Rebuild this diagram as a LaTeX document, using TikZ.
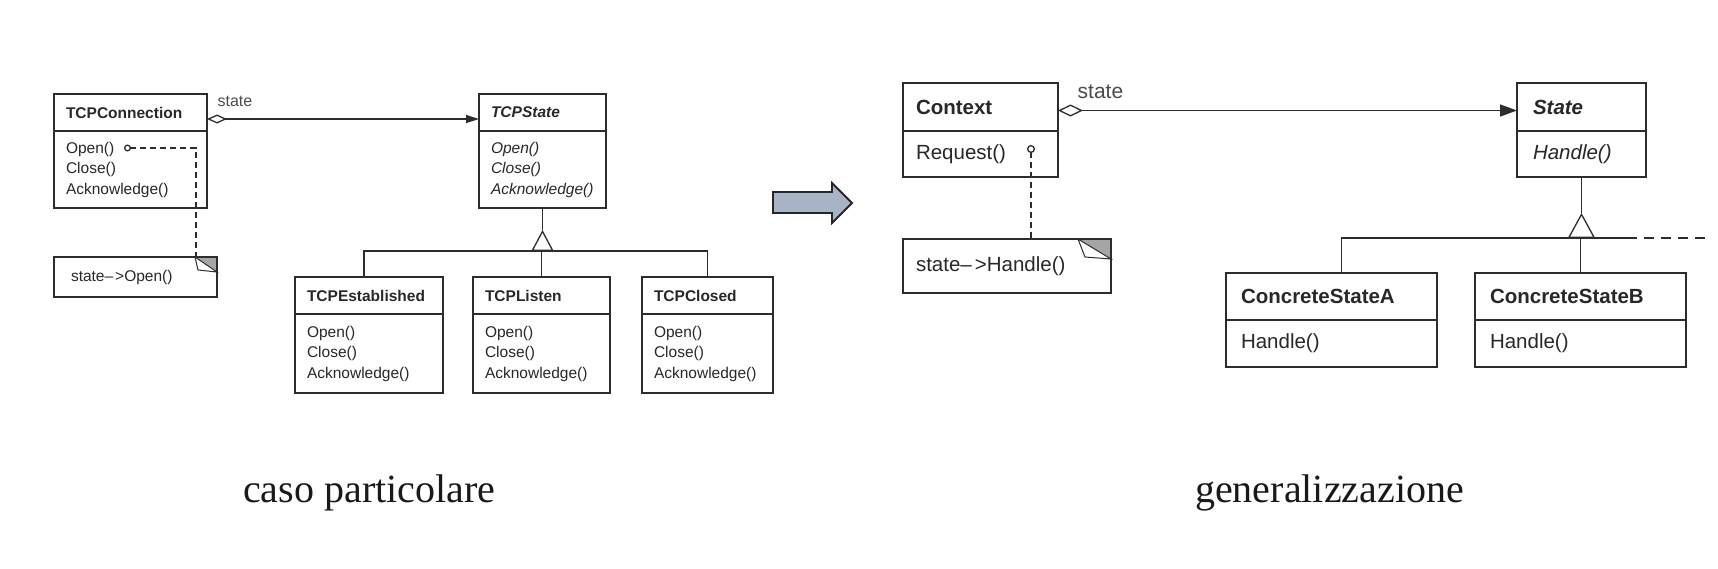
\documentclass[tikz,border=0pt]{standalone}
\usepackage{fontspec}
\setmainfont{Liberation Serif}
\setsansfont{Liberation Sans}
\usepackage{tikz}
\usepackage{xcolor}
\usetikzlibrary{arrows.meta}
\definecolor{umlline}{RGB}{45, 45, 45}
\definecolor{umltext}{RGB}{40, 40, 40}
\definecolor{foldgray}{RGB}{165, 165, 165}
\definecolor{arrowblue}{RGB}{168, 180, 198}

\begin{document}
\begin{tikzpicture}[x=1pt, y=-1pt,
    classbox/.style={draw=umlline, line width=1.3pt, anchor=north west, outer sep=0pt, inner xsep=12pt, inner ysep=0pt, align=left, text=umltext},
    smallfont/.style={font=\sffamily\fontsize{15.5}{20.5}\selectfont},
    bigfont/.style={font=\sffamily\fontsize{20.5}{26}\selectfont},
    umledge/.style={draw=umlline, line width=1.3pt},
    notelink/.style={umledge, dash pattern=on 6pt off 4pt},
    statelabel/.style={anchor=base west, inner sep=0pt, text=black!70},
    bigarrow/.style={fill=arrowblue, draw=black!85, line width=1.8pt},
    captiontext/.style={font=\fontsize{40}{48}\selectfont, text=black!90, anchor=base west, inner sep=0pt}]

    \fill[white] (0,0) rectangle (1718,568);
    \useasboundingbox (0,0) rectangle (1718,568);

    % TCPConnection class
    \node[classbox, smallfont, text width=129pt, minimum height=37pt] (tcpconn) at (54,94) {\textbf{TCPConnection}};
    \node[classbox, smallfont, text width=129pt, minimum height=77pt] (tcpconnops) at (tcpconn.south west) {Open()\\Close()\\Acknowledge()};

    % note on Open()
    \node[classbox, smallfont, inner xsep=17pt, text width=129pt, minimum height=40pt] (tcpnote) at (54,257) {state--\kern2pt>Open()};
    \fill[foldgray] ([xshift=-22pt]tcpnote.north east) -- (tcpnote.north east) -- ([yshift=-15pt]tcpnote.north east) -- cycle;
    \filldraw[fill=white, draw=umlline, line width=1pt] ([xshift=-22pt]tcpnote.north east) -- ([xshift=-19pt,yshift=-13pt]tcpnote.north east) -- ([yshift=-15pt]tcpnote.north east) -- cycle;
    \draw[umledge] ([xshift=-22pt]tcpnote.north east) -| ([yshift=-15pt]tcpnote.north east);
    \coordinate (opendot) at (124,148);
    \draw[notelink, {Circle[open,length=7pt]}-] (opendot) -| ([xshift=-21pt]tcpnote.north east);

    % TCPState class
    \node[classbox, smallfont, text width=103pt, minimum height=37pt] (tcpstate) at (479,94) {\textbf{\itshape TCPState}};
    \node[classbox, smallfont, text width=103pt, minimum height=77pt] (tcpstateops) at (tcpstate.south west) {\itshape Open()\\Close()\\Acknowledge()};

    % state association
    \draw[umledge, {Diamond[open,length=20pt,width=9pt]}-{Triangle[length=13pt,width=8pt]}] ([yshift=-6.5pt]tcpconn.east) -- ([yshift=-6.5pt]tcpstate.west)
        node[statelabel, pos=0, xshift=10pt, yshift=13pt, font=\sffamily\fontsize{16}{18}\selectfont] (tcpstatelbl) {state};

    % concrete TCP states
    \node[classbox, smallfont, text width=124pt, minimum height=37pt] (tcpest) at (295,277) {\textbf{TCPEstablished}};
    \node[classbox, smallfont, text width=124pt, minimum height=79pt] (tcpestops) at (tcpest.south west) {Open()\\Close()\\Acknowledge()};
    \node[classbox, smallfont, text width=113pt, minimum height=37pt] (tcplisten) at (473,277) {\textbf{TCPListen}};
    \node[classbox, smallfont, text width=113pt, minimum height=79pt] (tcplistenops) at (tcplisten.south west) {Open()\\Close()\\Acknowledge()};
    \node[classbox, smallfont, text width=107pt, minimum height=37pt] (tcpclosed) at (642,277) {\textbf{TCPClosed}};
    \node[classbox, smallfont, text width=107pt, minimum height=79pt] (tcpclosedops) at (tcpclosed.south west) {Open()\\Close()\\Acknowledge()};

    % inheritance tree
    \coordinate (tcpjoin) at (tcpstateops.south |- 0,251);
    \coordinate (tcpapex) at (tcpstateops.south |- 0,230);
    \draw[umledge] ([xshift=-5pt]tcpest.north) |- (tcpjoin) -| (tcpclosed.north);
    \draw[umledge] (tcplisten.north) -- (tcplisten.north |- tcpjoin);
    \draw[umledge, -{Triangle[open,length=21pt,width=22pt]}] (tcpjoin) -- (tcpapex);
    \draw[umledge] (tcpapex) -- (tcpstateops.south);

    % big arrow
    \draw[bigarrow] (773,192) -- (832,192) -- (832,183) -- (852,203) -- (832,223) -- (832,213) -- (773,213) -- cycle;

    % Context class
    \node[classbox, bigfont, inner xsep=13pt, text width=129pt, minimum height=48pt] (context) at (903,83) {\textbf{Context}};
    \node[classbox, bigfont, inner xsep=13pt, text width=129pt, minimum height=46pt] (contextops) at (context.south west) {Request()};

    % note on Request()
    \node[classbox, bigfont, inner xsep=13pt, text width=182pt, minimum height=54pt] (contextnote) at (903,239) {state--\kern3pt>Handle()};
    \fill[foldgray] ([xshift=-33pt]contextnote.north east) -- (contextnote.north east) -- ([yshift=-20pt]contextnote.north east) -- cycle;
    \filldraw[fill=white, draw=umlline, line width=1pt] ([xshift=-33pt]contextnote.north east) -- ([xshift=-26pt,yshift=-18pt]contextnote.north east) -- ([yshift=-20pt]contextnote.north east) -- cycle;
    \draw[umledge] ([xshift=-33pt]contextnote.north east) -| ([yshift=-20pt]contextnote.north east);
    \coordinate (reqdot) at (1031,145);
    \draw[notelink, {Circle[open,length=8pt]}-] (reqdot) -- (reqdot |- contextnote.north);

    % State class
    \node[classbox, bigfont, inner xsep=16pt, text width=97pt, minimum height=48pt] (state) at (1517,83) {\textbf{\itshape State}};
    \node[classbox, bigfont, inner xsep=16pt, text width=97pt, minimum height=46pt] (stateops) at (state.south west) {\itshape Handle()};

    % state association
    \draw[umledge, {Diamond[open,length=25pt,width=12pt]}-{Triangle[length=17pt,width=12pt]}] ([yshift=-3.5pt]context.east) -- ([yshift=-3.5pt]state.west)
        node[statelabel, pos=0, xshift=19pt, yshift=12pt, font=\sffamily\fontsize{21}{24}\selectfont] (statelbl) {state};

    % concrete states
    \node[classbox, bigfont, inner xsep=15pt, text width=181pt, minimum height=47pt] (csa) at (1226,273) {\textbf{ConcreteStateA}};
    \node[classbox, bigfont, inner xsep=15pt, text width=181pt, minimum height=47pt] (csaops) at (csa.south west) {Handle()};
    \node[classbox, bigfont, inner xsep=15pt, text width=181pt, minimum height=47pt] (csb) at (1475,273) {\textbf{ConcreteStateB}};
    \node[classbox, bigfont, inner xsep=15pt, text width=181pt, minimum height=47pt] (csbops) at (csb.south west) {Handle()};

    % inheritance tree
    \coordinate (stjoin) at (stateops.south |- 0,238);
    \coordinate (stapex) at (stateops.south |- 0,213);
    \coordinate (stbarend) at (1637,238);
    \coordinate (stmore) at (1708,238);
    \draw[umledge] ([xshift=10pt]csa.north) |- (stbarend);
    \draw[umledge, dash pattern=on 10pt off 7pt, dash phase=10pt] (stbarend) -- (stmore);
    \draw[umledge] (csb.north) -- (csb.north |- stjoin);
    \draw[umledge, -{Triangle[open,length=25pt,width=27pt]}] (stjoin) -- (stapex);
    \draw[umledge] (stapex) -- (stateops.south);

    % captions
    \node[captiontext] (capleft) at (243,502) {caso particolare};
    \node[captiontext] (capright) at (1195,502) {generalizzazione};
\end{tikzpicture}
\end{document}
